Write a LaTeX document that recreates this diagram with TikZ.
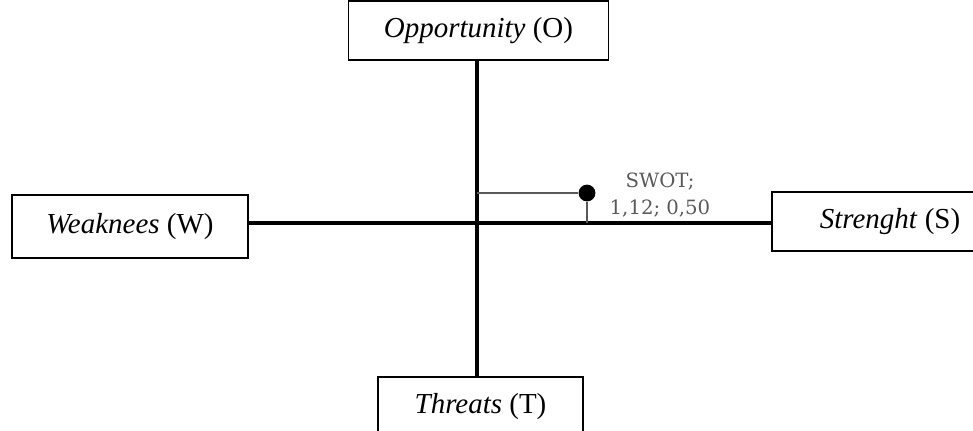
\documentclass[tikz,border=0pt]{standalone}
\usepackage{fontspec}
\setmainfont{Liberation Serif}
\newfontfamily\labelfont{DejaVu Serif}
\usetikzlibrary{positioning}
\definecolor{markgray}{HTML}{595959}

\begin{document}
\begin{tikzpicture}[x=0.025cm,y=-0.025cm,
	quad/.style={draw, line width=1.2pt, fill=white, inner sep=0pt,
		font=\fontsize{20.6}{24}\selectfont},
	axis/.style={line width=2.5pt},
	guide/.style={draw=markgray, line width=1.5pt}]

	%Fixing the frame
	\useasboundingbox (0,0) rectangle (973,430);

	%The four boxes
	\node [quad, minimum width=6.5cm, minimum height=1.475cm] (o) at (478.5,30.5) {\textit{Opportunity} (O)};
	\node [quad, minimum width=5.9cm, minimum height=1.575cm] (w) at (130,226.5) {\textit{Weaknees} (W)};
	\node [quad, minimum width=5.9cm, minimum height=1.475cm] (s) at (890,221.5) {\textit{Strenght} (S)};
	\node [quad, minimum width=5.125cm, minimum height=1.475cm] (t) at (480.5,406.5) {\textit{Threats} (T)};

	%Axes
	\coordinate (c) at (477,223);
	\draw [axis] (o.south -| c) -- (t.north -| c);
	\draw [axis] (w.east |- c) -- (s.west |- c);

	%Position of the point
	\node [circle, fill=black, minimum size=0.42cm, inner sep=0pt] (p) at (587,193) {};
	\draw [guide] (c |- p) -- (p);
	\draw [guide] (p) -- (p |- c);
	\node [markgray, align=center, font=\labelfont\fontsize{14}{19.5}\selectfont] (swot) at (660,195) {SWOT;\\1,12; 0,50};

\end{tikzpicture}
\end{document}
